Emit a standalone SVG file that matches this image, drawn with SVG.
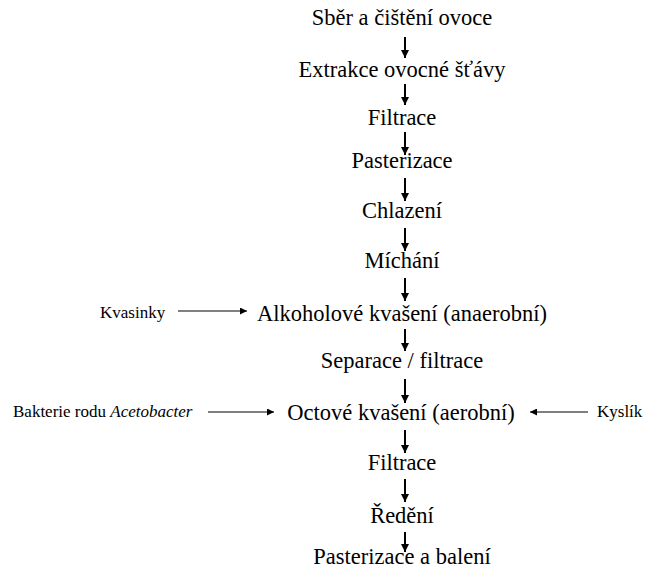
<svg xmlns="http://www.w3.org/2000/svg" width="645" height="573" viewBox="0 0 645 573">
  <style>
    text { font-family: 'Liberation Serif', 'Times New Roman', serif; fill: #000; }
    .main { font-size: 22.5px; text-anchor: middle; }
    .side { font-size: 17px; }
    .v { stroke: #000; stroke-width: 2; fill: none; }
    .h { stroke: #000; stroke-width: 1; fill: none; }
  </style>
  <defs>
    <marker id="hv" viewBox="0 0 10 10" refX="10" refY="5" markerWidth="4.5" markerHeight="4" markerUnits="strokeWidth" orient="auto">
      <path d="M0,0 L10,5 L0,10 Z" fill="#000"/>
    </marker>
    <marker id="hh" viewBox="0 0 10 10" refX="10" refY="5" markerWidth="8" markerHeight="7" markerUnits="strokeWidth" orient="auto">
      <path d="M0,0 L10,5 L0,10 Z" fill="#000"/>
    </marker>
  </defs>
  <rect width="645" height="573" fill="#fff"/>
  <g id="connectors">
    <line class="v" x1="405" y1="37" x2="405" y2="58" marker-end="url(#hv)"/>
    <line class="v" x1="405" y1="84" x2="405" y2="105" marker-end="url(#hv)"/>
    <line class="v" x1="405" y1="132" x2="405" y2="155" marker-end="url(#hv)"/>
    <line class="v" x1="405" y1="178" x2="405" y2="201" marker-end="url(#hv)"/>
    <line class="v" x1="405" y1="228" x2="405" y2="251" marker-end="url(#hv)"/>
    <line class="v" x1="405" y1="278" x2="405" y2="301" marker-end="url(#hv)"/>
    <line class="v" x1="405" y1="329" x2="405" y2="351" marker-end="url(#hv)"/>
    <line class="v" x1="405" y1="379" x2="405" y2="403" marker-end="url(#hv)"/>
    <line class="v" x1="405" y1="430" x2="405" y2="453" marker-end="url(#hv)"/>
    <line class="v" x1="405" y1="479" x2="405" y2="502" marker-end="url(#hv)"/>
    <line class="v" x1="405" y1="532" x2="405" y2="552" marker-end="url(#hv)"/>
    <line class="h" x1="178" y1="311" x2="247" y2="311" marker-end="url(#hh)"/>
    <line class="h" x1="208" y1="412" x2="274" y2="412" marker-end="url(#hh)"/>
    <line class="h" x1="588" y1="412" x2="530" y2="412" marker-end="url(#hh)"/>
  </g>
  <g id="n1"><text class="main" x="402" y="25">Sběr a čištění ovoce</text></g>
  <g id="n2"><text class="main" x="402" y="77">Extrakce ovocné šťávy</text></g>
  <g id="n3"><text class="main" x="402" y="125">Filtrace</text></g>
  <g id="n4"><text class="main" x="402" y="168">Pasterizace</text></g>
  <g id="n5"><text class="main" x="402" y="218">Chlazení</text></g>
  <g id="n6"><text class="main" x="402" y="268">Míchání</text></g>
  <g id="n7"><text class="main" x="402" y="321">Alkoholové kvašení (anaerobní)</text></g>
  <g id="n8"><text class="main" x="402" y="368">Separace / filtrace</text></g>
  <g id="n9"><text class="main" x="401" y="420">Octové kvašení (aerobní)</text></g>
  <g id="n10"><text class="main" x="402" y="470">Filtrace</text></g>
  <g id="n11"><text class="main" x="402" y="523">Ředění</text></g>
  <g id="n12"><text class="main" x="402" y="564">Pasterizace a balení</text></g>
  <g id="s1"><text class="side" x="100" y="318">Kvasinky</text></g>
  <g id="s2"><text class="side" x="13" y="417">Bakterie  rodu <tspan font-style="italic">Acetobacter</tspan></text></g>
  <g id="s3"><text class="side" x="597" y="417">Kyslík</text></g>
</svg>
